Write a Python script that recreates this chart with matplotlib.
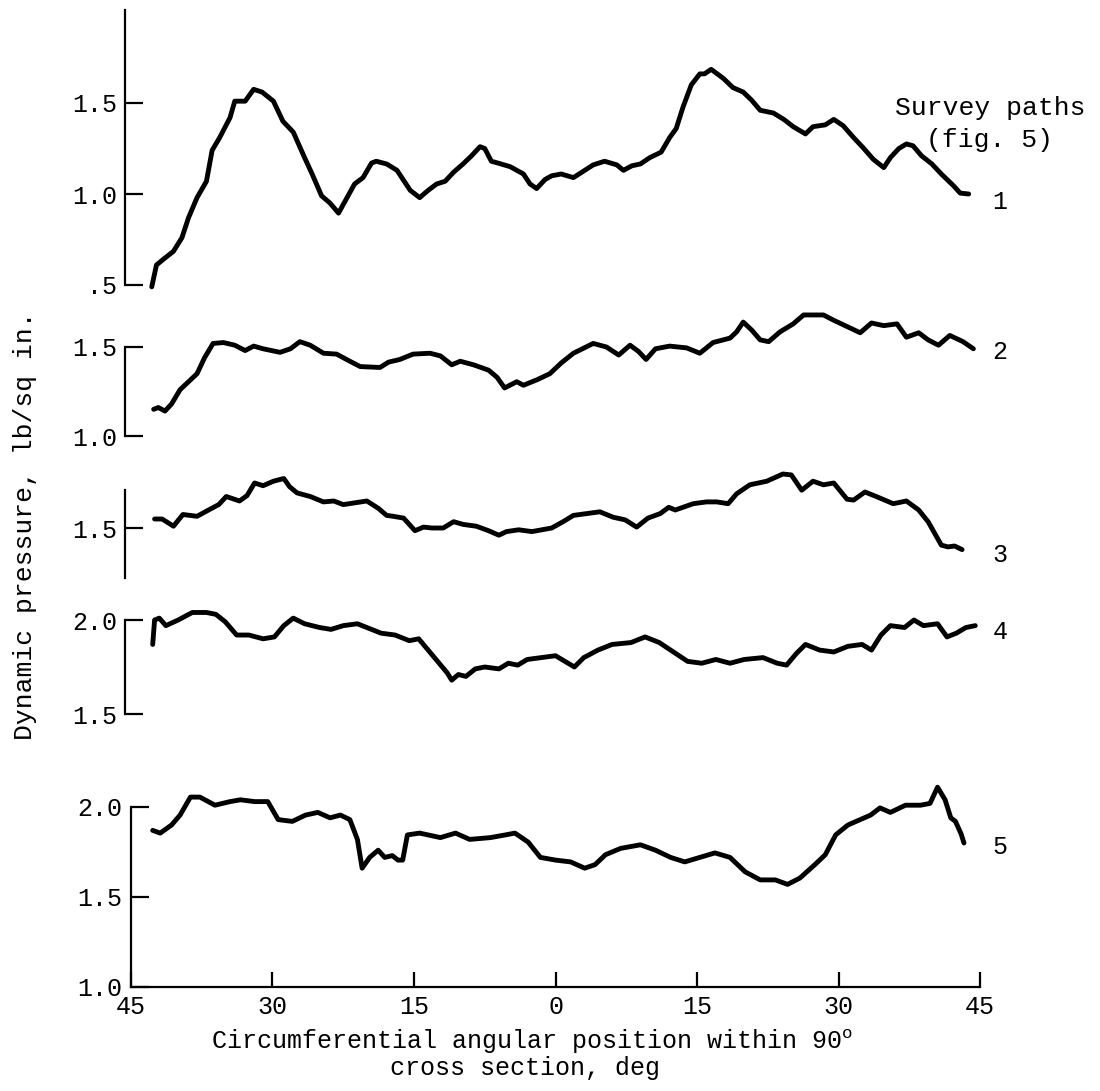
import matplotlib
matplotlib.use("Agg")
import matplotlib.pyplot as plt

plt.rcParams['font.family'] = ['Liberation Mono', 'DejaVu Sans Mono']
plt.rcParams['mathtext.fontset'] = 'custom'
plt.rcParams['mathtext.rm'] = 'Liberation Mono'

# survey path 1
ang1 = [-42.8, -42.3, -41.6, -40.5, -39.6, -38.9, -38.0, -37.0, -36.4, -35.6, -34.5, -34.0,
        -32.9, -32.0, -31.1, -29.9, -28.9, -27.8, -26.6, -25.8, -24.8, -23.9, -23.0, -22.1,
        -21.3, -20.4, -19.5, -19.0, -17.9, -16.8, -15.4, -14.4, -13.5, -12.6, -11.7, -10.8,
        -9.8, -8.9, -8.0, -7.5, -6.8, -6.1, -4.8, -3.4, -2.7, -2.0, -1.1, -0.4, 0.6,
        1.9, 2.8, 4.0, 5.2, 6.5, 7.2, 8.1, 9.0, 10.0, 11.2, 12.1, 12.8, 13.5, 14.4, 15.3,
        15.8, 16.5, 17.8, 18.8, 19.9, 20.8, 21.7, 23.1, 24.2, 25.2, 26.5, 27.3, 28.6, 29.5,
        30.5, 31.6, 32.6, 33.7, 34.8, 35.5, 36.4, 37.2, 37.9, 38.8, 39.9, 40.9, 42.2, 42.9, 43.8]
q1 = [0.49, 0.61, 0.64, 0.685, 0.76, 0.87, 0.98, 1.07, 1.24, 1.31, 1.42, 1.51,
      1.51, 1.575, 1.56, 1.51, 1.40, 1.34, 1.20, 1.11, 0.99, 0.95, 0.895, 0.98,
      1.055, 1.09, 1.17, 1.18, 1.165, 1.13, 1.02, 0.98, 1.02, 1.055, 1.07, 1.12,
      1.165, 1.21, 1.26, 1.25, 1.18, 1.17, 1.15, 1.11, 1.055, 1.03, 1.08, 1.10, 1.11,
      1.09, 1.12, 1.16, 1.18, 1.16, 1.13, 1.155, 1.165, 1.20, 1.23, 1.31, 1.36, 1.475, 1.60, 1.66,
      1.66, 1.685, 1.635, 1.585, 1.56, 1.515, 1.46, 1.445, 1.41, 1.37, 1.33, 1.37, 1.38, 1.41,
      1.375, 1.31, 1.255, 1.19, 1.145, 1.20, 1.25, 1.275, 1.265, 1.21, 1.165, 1.11, 1.045, 1.005, 1.00]

# survey path 2
ang2 = [-42.6, -42.1, -41.4, -40.7, -39.8, -38.9, -38.0, -37.2, -36.3, -35.2, -34.0, -32.9,
        -32.0, -31.0, -29.2, -28.1, -27.1, -26.0, -24.6, -23.2, -21.8, -20.7, -18.6, -17.7,
        -16.5, -15.1, -13.3, -12.2, -11.0, -10.1, -8.7, -7.1, -6.2, -5.4, -4.1, -3.4, -2.0,
        -0.6, 0.6, 1.9, 4.0, 5.4, 6.7, 7.9, 8.8, 9.6, 10.6, 12.1, 13.9, 15.3, 16.7, 18.5,
        19.2, 19.9, 20.8, 21.7, 22.6, 23.8, 25.2, 26.3, 28.4, 29.5, 30.9, 32.3, 33.5, 34.8,
        36.2, 37.2, 38.5, 39.5, 40.6, 41.8, 43.2, 44.3]
q2 = [1.15, 1.16, 1.14, 1.18, 1.26, 1.305, 1.35, 1.44, 1.52, 1.525, 1.51, 1.48,
      1.505, 1.49, 1.47, 1.49, 1.53, 1.51, 1.465, 1.46, 1.42, 1.39, 1.385, 1.415,
      1.43, 1.46, 1.465, 1.45, 1.40, 1.42, 1.40, 1.37, 1.33, 1.27, 1.305, 1.285, 1.315,
      1.35, 1.41, 1.465, 1.52, 1.50, 1.455, 1.51, 1.475, 1.43, 1.49, 1.505, 1.495, 1.465, 1.525, 1.55,
      1.585, 1.64, 1.595, 1.54, 1.53, 1.585, 1.63, 1.68, 1.68, 1.65, 1.615, 1.58, 1.635, 1.62,
      1.63, 1.555, 1.58, 1.54, 1.51, 1.565, 1.53, 1.49]

# survey path 3
ang3 = [-42.5, -41.7, -40.5, -39.5, -38.0, -36.6, -35.7, -34.9, -33.5, -32.7, -31.9, -31.0,
        -29.9, -28.8, -28.2, -27.4, -26.0, -24.6, -23.5, -22.5, -20.0, -18.8, -17.9, -17.2,
        -16.1, -14.9, -14.0, -13.1, -11.9, -10.8, -9.8, -8.4, -7.1, -6.0, -5.2, -3.9, -2.5,
        -0.4, 0.8, 1.9, 3.3, 4.7, 6.1, 7.4, 8.6, 9.8, 11.1, 12.0, 12.7, 14.6, 16.0, 17.1,
        18.3, 19.2, 20.6, 22.4, 24.1, 25.0, 26.1, 27.3, 28.4, 29.5, 30.9, 31.6, 32.8, 34.0,
        35.8, 37.2, 38.5, 39.5, 40.9, 41.6, 42.3, 43.1]
q3 = [1.55, 1.55, 1.51, 1.575, 1.565, 1.605, 1.63, 1.675, 1.65, 1.68, 1.75, 1.735,
      1.76, 1.775, 1.73, 1.695, 1.675, 1.645, 1.65, 1.63, 1.65, 1.61, 1.57, 1.565,
      1.555, 1.485, 1.505, 1.50, 1.50, 1.535, 1.52, 1.51, 1.485, 1.46, 1.48, 1.49, 1.48,
      1.50, 1.535, 1.57, 1.58, 1.59, 1.56, 1.545, 1.505, 1.555, 1.58, 1.615, 1.60, 1.635, 1.645, 1.645,
      1.635, 1.69, 1.74, 1.76, 1.80, 1.795, 1.71, 1.76, 1.74, 1.75, 1.66, 1.655, 1.70, 1.675,
      1.635, 1.65, 1.60, 1.535, 1.405, 1.395, 1.40, 1.38]

# survey path 4
ang4 = [-42.7, -42.5, -42.0, -41.3, -40.0, -38.5, -37.0, -36.0, -35.0, -33.8, -32.5, -31.0,
        -29.8, -28.8, -27.8, -26.6, -25.0, -23.8, -22.5, -21.0, -20.0, -18.5, -17.0, -15.5,
        -14.5, -13.5, -12.5, -11.5, -11.0, -10.3, -9.5, -8.5, -7.5, -6.0, -5.0, -4.0, -3.0,
        -1.5, 0.0, 1.0, 2.0, 3.0, 4.5, 6.0, 8.0, 9.5, 11.0, 12.5, 14.0, 15.5, 17.0, 18.5,
        20.0, 22.0, 23.5, 24.5, 25.5, 26.5, 28.0, 29.5, 31.0, 32.5, 33.5, 34.5, 35.5, 37.0,
        38.0, 39.0, 40.5, 41.5, 42.5, 43.5, 44.5]
q4 = [1.87, 2.0, 2.01, 1.97, 2.0, 2.04, 2.04, 2.03, 1.99, 1.92, 1.92, 1.90,
      1.91, 1.97, 2.01, 1.98, 1.96, 1.95, 1.97, 1.98, 1.96, 1.93, 1.92, 1.89,
      1.90, 1.84, 1.78, 1.72, 1.68, 1.71, 1.70, 1.74, 1.75, 1.74, 1.77, 1.76, 1.79,
      1.80, 1.81, 1.78, 1.75, 1.80, 1.84, 1.87, 1.88, 1.91, 1.88, 1.83, 1.78, 1.77, 1.79, 1.77,
      1.79, 1.80, 1.77, 1.76, 1.82, 1.87, 1.84, 1.83, 1.86, 1.87, 1.84, 1.92, 1.97, 1.96,
      2.0, 1.97, 1.98, 1.91, 1.93, 1.96, 1.97]

# survey path 5
ang5 = [-42.7, -41.9, -40.7, -39.8, -38.7, -37.7, -36.1, -34.5, -33.4, -31.9, -30.5, -29.4,
        -27.9, -26.5, -25.2, -23.9, -22.8, -21.8, -21.0, -20.5, -19.7, -18.8, -18.1, -17.3,
        -16.7, -16.2, -15.7, -14.4, -12.2, -10.6, -9.1, -6.9, -5.3, -4.3, -2.9, -1.6, 0.0,
        1.6, 3.1, 4.2, 5.3, 6.9, 9.0, 10.6, 12.2, 13.7, 15.3, 16.9, 18.5, 20.1, 21.7, 23.3,
        24.6, 25.9, 27.5, 28.6, 29.7, 31.0, 32.3, 33.4, 34.4, 35.5, 37.1, 38.7, 39.7, 40.5,
        41.3, 41.9, 42.4, 43.0, 43.3]
q5 = [1.87, 1.855, 1.90, 1.955, 2.055, 2.055, 2.01, 2.03, 2.04, 2.03, 2.03, 1.93,
      1.92, 1.955, 1.97, 1.94, 1.955, 1.93, 1.82, 1.66, 1.72, 1.76, 1.72, 1.73,
      1.705, 1.705, 1.845, 1.855, 1.83, 1.855, 1.82, 1.83, 1.845, 1.855, 1.805, 1.72, 1.705,
      1.695, 1.66, 1.68, 1.735, 1.77, 1.79, 1.76, 1.72, 1.695, 1.72, 1.745, 1.72, 1.64, 1.595, 1.595,
      1.57, 1.605, 1.68, 1.735, 1.845, 1.90, 1.93, 1.955, 1.995, 1.97, 2.01, 2.01, 2.02, 2.11,
      2.04, 1.94, 1.92, 1.85, 1.80]

angles = [ang1, ang2, ang3, ang4, ang5]
pressures = [q1, q2, q3, q4, q5]
path_names = ['1', '2', '3', '4', '5']
x_ticks = [-45, -30, -15, 0, 15, 30, 45]

# layout, in pixels of the 1100 x 1091 picture
W, H = 1100, 1091
calib = [((1.5, 103), (0.5, 285)),
         ((1.5, 347), (1.0, 436)),
         ((1.5, 528), (1.0, 618)),
         ((2.0, 620), (1.5, 714)),
         ((2.0, 807), (1.0, 987))]
spine_rng = [(0.5, 2.01), (1.0, 1.5), (1.22, 1.71), (1.5, 2.0), (1.0, 2.0)]
y_ticks = [[0.5, 1.0, 1.5], [1.0, 1.5], [1.5], [1.5, 2.0], [1.0, 1.5, 2.0]]
label_y = [202, 352, 555, 632, 847]
fs = 18

fig = plt.figure(figsize=(W / 100, H / 100), dpi=100)
left, right = 131, 980

for k in range(5):
    ax = fig.add_axes([left / W, 0, (right - left) / W, 1])
    ax.patch.set_alpha(0)
    (va, pa), (vb, pb) = calib[k]
    s = (pb - pa) / (va - vb)
    ax.set_ylim(va - (H - pa) / s, va + pa / s)
    ax.set_xlim(-45, 45)
    ax.plot(angles[k], pressures[k], color='black', lw=3.5,
            solid_capstyle='round', solid_joinstyle='round')
    for sp in ['top', 'right']:
        ax.spines[sp].set_visible(False)
    ax.spines['left'].set_bounds(*spine_rng[k])
    ax.spines['left'].set_linewidth(1.6)
    if k < 4:
        ax.spines['left'].set_position(('outward', 4))
        ax.spines['bottom'].set_visible(False)
        ax.set_xticks([])
    else:
        ax.spines['bottom'].set_position(('data', 1.0))
        ax.spines['bottom'].set_bounds(-45, 45)
        ax.spines['bottom'].set_linewidth(1.6)
        ax.set_xticks(x_ticks)
        ax.set_xticklabels([str(abs(t)) for t in x_ticks], fontsize=fs)
        ax.tick_params(axis='x', direction='in', length=11, width=1.6, pad=6)
    ax.set_yticks(y_ticks[k])
    ax.set_yticklabels([('%.1f' % t).replace('0.5', '.5') for t in y_ticks[k]], fontsize=fs)
    ax.tick_params(axis='y', direction='in', length=13, width=1.6, pad=6)
    fig.text(1000 / W, 1 - label_y[k] / H, path_names[k], fontsize=fs,
             ha='center', va='center')

fig.text(990 / W, 1 - 108 / H, 'Survey paths', fontsize=19, ha='center', va='center')
fig.text(990 / W, 1 - 140 / H, '(fig. 5)', fontsize=19, ha='center', va='center')
fig.text(25 / W, 1 - 526 / H, 'Dynamic pressure, lb/sq in.', fontsize=19,
         rotation=90, ha='center', va='center')
fig.text(532 / W, 1 - 1042 / H, r'Circumferential angular position within 90$^\mathrm{o}$',
         fontsize=fs, ha='center', va='center')
fig.text(525 / W, 1 - 1068 / H, 'cross section, deg', fontsize=fs, ha='center', va='center')

fig.savefig('out.png', dpi=100, facecolor='white')
